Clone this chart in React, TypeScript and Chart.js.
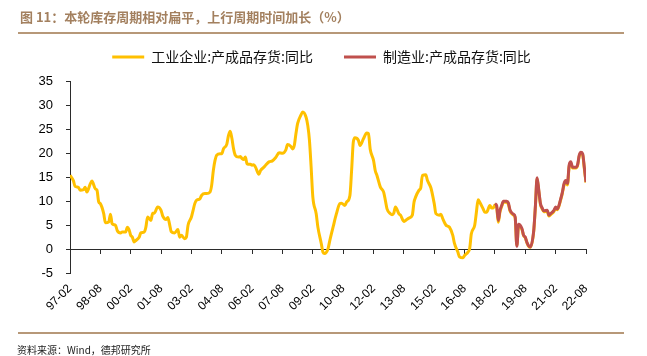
import React, { useEffect, useRef } from "react";
import { Chart, registerables } from "chart.js";

Chart.register(...registerables);

const TITLE = "图 11：本轮库存周期相对扁平，上行周期时间加长（%）";
const SOURCE = "资料来源：Wind，德邦研究所";
const seriesNames = ["工业企业:产成品存货:同比", "制造业:产成品存货:同比"];
const seriesColors = ["#FFC000", "#C0504D"];

// month offsets counted from 1997-02 (offset 0) to 2022-08 (offset 306)
const startYear = 1997;
const startMonth = 2;
const lastOffset = 306;
const tickEvery = 18;
const yMin = -5;
const yMax = 35;
const yStep = 5;

const industryMonths = [
  0, 2, 3, 5, 6, 8, 9, 10, 12, 13, 15, 16, 17, 18, 20, 21, 23, 24, 25, 27, 28, 30, 31, 33, 34, 35, 36, 37, 38, 39,
  41, 42, 44, 45, 46, 48, 49, 50, 52, 54, 55, 57, 58, 59, 60, 62, 64, 65, 66, 68, 69, 70, 72, 73, 74, 75, 77, 78, 80, 81,
  83, 84, 85, 86, 87, 89, 90, 91, 93, 94, 95, 96, 97, 98, 100, 101, 102, 103, 104, 105, 107, 108, 109, 110, 112, 113, 115, 116, 118, 120,
  122, 124, 126, 128, 129, 131, 132, 133, 134, 135, 137, 138, 140, 141, 142, 143, 144, 146, 147, 149, 150, 151, 153, 154, 156, 158, 160, 161, 163, 164,
  166, 167, 168, 169, 171, 172, 174, 176, 177, 178, 180, 181, 182, 184, 186, 187, 188, 190, 191, 192, 193, 195, 196, 198, 199, 201, 203, 204, 205, 207,
  208, 209, 211, 212, 214, 216, 217, 219, 220, 221, 223, 224, 225, 227, 228, 230, 231, 233, 234, 236, 237, 238, 240, 241, 242, 243, 245, 246, 247, 249,
  250, 251, 252, 253, 254, 255, 256, 257, 259, 260, 261, 263, 264, 265, 266, 268, 269, 270, 271, 272, 273, 275, 276, 277, 278, 279, 280, 281, 283, 284,
  285, 287, 288, 289, 291, 292, 293, 294, 295, 296, 297, 298, 300, 301, 302, 303, 304, 305, 306,
];
const industryValues = [
  15.5, 14.4, 13.2, 13.0, 12.4, 12.5, 13.0, 12.0, 13.7, 14.3, 12.7, 12.4, 10.0, 9.6, 7.5, 5.6, 5.8, 7.4, 5.4, 5.1, 4.0, 3.5, 3.7, 3.7, 4.7, 4.2, 3.0, 2.6, 1.6, 1.9,
  2.6, 3.5, 3.7, 4.7, 6.8, 6.1, 7.6, 7.6, 8.9, 8.2, 7.0, 6.3, 6.7, 5.4, 3.8, 3.5, 4.2, 2.6, 3.0, 2.3, 2.6, 5.1, 6.8, 8.2, 9.6, 10.3, 10.6, 11.3, 11.7, 11.7,
  12.0, 13.4, 16.5, 18.6, 19.7, 20.0, 20.0, 21.0, 22.0, 23.8, 24.7, 23.2, 21.0, 19.7, 19.3, 19.4, 19.0, 18.8, 19.3, 17.9, 17.8, 17.6, 17.7, 17.2, 15.7, 16.5, 17.2, 17.6, 18.3, 18.5,
  19.2, 20.2, 20.1, 20.8, 21.9, 21.5, 21.0, 21.7, 24.2, 26.3, 28.1, 28.7, 27.6, 25.9, 22.8, 17.2, 11.0, 7.5, 4.7, 1.3, -0.5, -0.8, 0.2, 1.8, 4.7, 7.5, 9.6, 9.7, 9.2, 9.9,
  11.3, 16.5, 22.4, 23.3, 22.8, 21.7, 23.1, 24.3, 24.2, 21.0, 18.6, 16.5, 15.5, 13.1, 12.0, 10.3, 8.5, 7.5, 7.3, 7.6, 8.9, 7.5, 7.2, 5.9, 6.1, 6.6, 7.2, 9.9, 11.0, 12.4,
  12.9, 15.5, 15.6, 14.4, 12.9, 9.6, 7.5, 7.2, 7.4, 6.5, 5.1, 4.9, 4.7, 3.0, 1.3, -0.5, -1.5, -1.7, -1.2, -0.5, 0.2, 3.3, 5.1, 7.8, 10.4, 9.9, 8.5, 7.8, 7.8, 9.2,
  8.7, 8.7, 9.3, 8.9, 5.7, 7.9, 9.0, 9.9, 9.9, 9.4, 8.0, 7.2, 6.6, 0.9, 5.0, 4.2, 2.9, 2.5, 1.4, 0.7, 0.5, 3.8, 9.0, 14.8, 12.2, 9.4, 8.5, 7.9, 8.0, 7.0,
  7.3, 8.0, 8.7, 8.3, 10.4, 11.8, 13.5, 14.2, 13.5, 17.3, 18.0, 17.0, 17.0, 17.5, 19.5, 20.1, 19.8, 16.9, 14.0,
];

const manufacturingMonths = [
  252, 253, 254, 255, 256, 257, 259, 260, 261, 263, 264, 265, 266, 268, 269, 270, 271, 272, 273, 275, 276, 277, 278, 279, 280, 281, 283, 284, 285, 287,
  288, 289, 291, 292, 293, 294, 295, 296, 297, 298, 300, 301, 302, 303, 304, 305, 306,
];
const manufacturingValues = [
  9.6, 9.2, 6.1, 8.2, 9.2, 10.1, 10.1, 9.7, 8.2, 7.4, 6.8, 0.7, 5.3, 4.4, 3.0, 2.6, 1.5, 0.8, 0.6, 4.0, 9.2, 15.0, 12.4, 9.6, 8.7, 8.1, 8.2, 7.2, 7.5, 8.2,
  8.9, 8.5, 10.6, 12.0, 13.8, 14.4, 13.8, 17.6, 18.3, 17.2, 17.2, 17.7, 19.7, 20.3, 20.0, 17.2, 14.1,
];

function monthLabel(offset: number): string {
  const total = startMonth - 1 + Math.round(offset);
  const year = startYear + Math.floor(total / 12);
  const month = (total % 12) + 1;
  return String(year % 100).padStart(2, "0") + "-" + String(month).padStart(2, "0");
}

const AXIS_COLOR = "#2b2b2b";
const LATIN = '"Liberation Sans", Arial, sans-serif';
const CJK = '"Noto Sans CJK SC", "Liberation Sans", sans-serif';

export default function App() {
  const canvasRef = useRef<HTMLCanvasElement | null>(null);

  useEffect(() => {
    const canvas = canvasRef.current;
    if (!canvas) return;
    const chart = new Chart(canvas, {
      type: "line",
      data: {
        datasets: [
          {
            label: seriesNames[0],
            data: industryMonths.map((m, i) => ({ x: m, y: industryValues[i] })),
            borderColor: seriesColors[0],
            backgroundColor: seriesColors[0],
            borderWidth: 3,
            pointRadius: 0,
            cubicInterpolationMode: "monotone",
            order: 1,
            xAxisID: "x",
            yAxisID: "y",
          },
          {
            label: seriesNames[1],
            data: manufacturingMonths.map((m, i) => ({ x: m, y: manufacturingValues[i] })),
            borderColor: seriesColors[1],
            backgroundColor: seriesColors[1],
            borderWidth: 3,
            pointRadius: 0,
            cubicInterpolationMode: "monotone",
            order: 0,
            xAxisID: "x",
            yAxisID: "y",
          },
        ],
      },
      options: {
        responsive: false,
        animation: false,
        devicePixelRatio: 1,
        layout: { padding: { left: 57, right: 61, top: 19, bottom: 0 } },
        plugins: {
          tooltip: { enabled: false },
          title: {
            display: true,
            text: "",
            weight: 500,
            position: "top",
            font: { size: 1, lineHeight: 1 },
            padding: { top: 0, bottom: 6.7 },
          },
          legend: {
            display: true,
            position: "top",
            align: "center",
            labels: {
              boxWidth: 32,
              boxHeight: 3,
              padding: 31,
              color: "#111",
              font: { family: CJK, size: 14 },
              generateLabels: (c: any) =>
                Chart.defaults.plugins.legend.labels
                  .generateLabels(c)
                  .map((l: any) => ({ ...l, lineWidth: 0 }))
                  .sort((a: any, b: any) => a.datasetIndex - b.datasetIndex),
            },
          },
        },
        scales: {
          x: {
            type: "linear",
            min: 0,
            max: lastOffset,
            position: { y: 0 } as any,
            ticks: { display: false, stepSize: tickEvery, autoSkip: false },
            grid: { drawOnChartArea: false, drawTicks: true, tickLength: 4, color: AXIS_COLOR, lineWidth: 1 },
            border: { display: true, color: AXIS_COLOR, width: 1 },
          },
          x2: {
            type: "linear",
            axis: "x",
            min: 0,
            max: lastOffset,
            position: "bottom",
            ticks: {
              stepSize: tickEvery,
              autoSkip: false,
              maxRotation: 45,
              minRotation: 45,
              padding: 8,
              color: "#000",
              font: { family: LATIN, size: 12 },
              callback: (v: any) => monthLabel(Number(v)),
            },
            grid: { display: false, drawTicks: false },
            border: { display: false },
            afterFit: (s: any) => {
              s.height = 82.3;
            },
          },
          y: {
            type: "linear",
            min: yMin,
            max: yMax,
            position: "left",
            ticks: { stepSize: yStep, padding: 13, color: "#000", font: { family: LATIN, size: 13 } },
            grid: { drawOnChartArea: false, drawTicks: true, tickLength: 4, color: AXIS_COLOR, lineWidth: 1 },
            border: { display: true, color: AXIS_COLOR, width: 1 },
            afterFit: (s: any) => {
              s.width = 13;
              // let the tick labels extend left of the narrow axis box
              s._computeLabelArea = () => undefined;
            },
          },
        },
      } as any,
    });
    return () => chart.destroy();
  }, []);

  return (
    <div style={{ position: "absolute", left: 0, top: 0, width: 647, height: 356, background: "#fff", overflow: "hidden" }}>
      <canvas ref={canvasRef} width={647} height={356} style={{ position: "absolute", left: 0, top: 0, display: "block" }} />
      <div
        style={{
          position: "absolute",
          left: 20,
          top: 8,
          fontFamily: CJK,
          fontWeight: 700,
          fontSize: 13,
          lineHeight: "18px",
          color: "#a3805f",
          whiteSpace: "nowrap",
        }}
      >
        {TITLE}
      </div>
      <div style={{ position: "absolute", left: 18, top: 32, width: 606, height: 2, background: "#b79878" }} />
      <div style={{ position: "absolute", left: 18, top: 332, width: 606, height: 2, background: "#b79878" }} />
      <div
        style={{
          position: "absolute",
          left: 17,
          top: 342,
          fontFamily: CJK,
          fontSize: 10,
          lineHeight: "15px",
          color: "#222",
          whiteSpace: "nowrap",
        }}
      >
        {SOURCE}
      </div>
    </div>
  );
}
